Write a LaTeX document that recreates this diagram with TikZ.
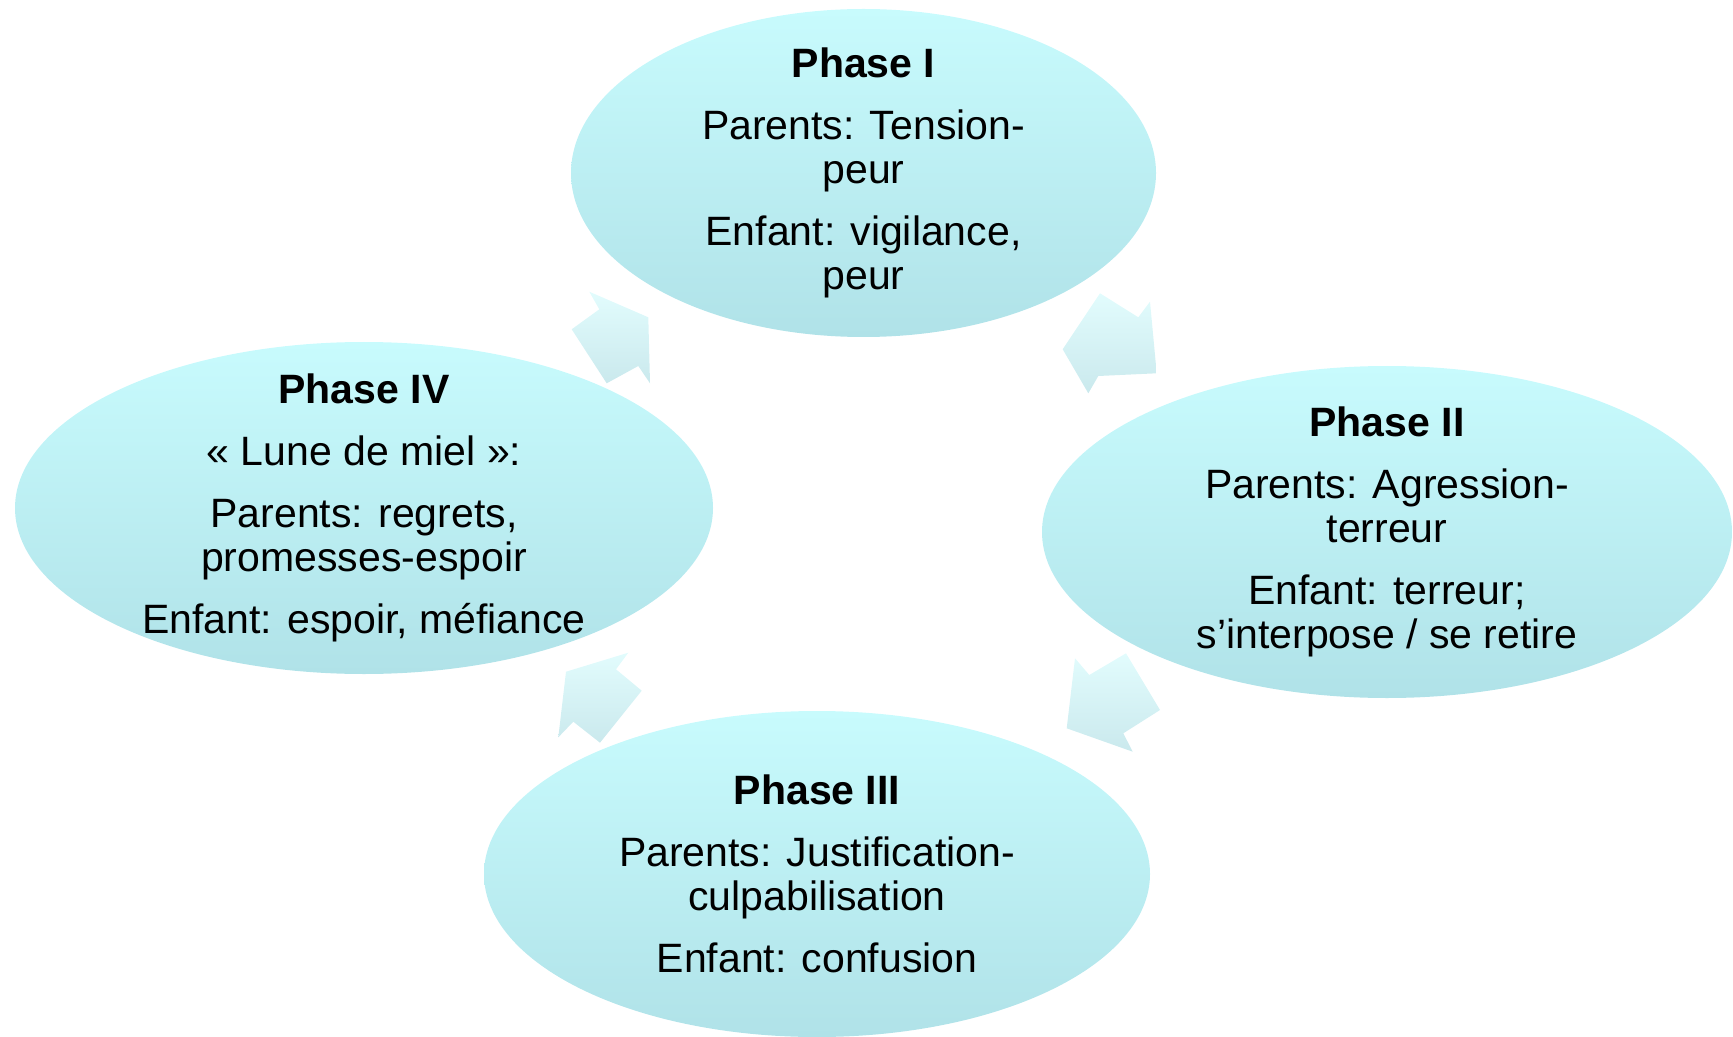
\documentclass[tikz,border=0pt]{standalone}
\usepackage{fontspec}
\setmainfont{Liberation Sans}
\usetikzlibrary{shapes.geometric}
\definecolor{ovaltop}{RGB}{200,251,253}
\definecolor{ovalbot}{RGB}{176,226,232}
\definecolor{arrtop}{RGB}{226,252,253}
\definecolor{arrbot}{RGB}{202,233,237}
\begin{document}
\begin{tikzpicture}[x=0.5pt,y=-0.5pt]
            \tikzset{phase/.style 2 args={ellipse, draw=none, inner sep=0pt, minimum width=#1pt, minimum height=#2pt, top color=ovaltop, bottom color=ovalbot}};
            \tikzset{txt/.style={align=center, font=\fontsize{20.5}{22}\selectfont}};
            \tikzset{cyc/.style={top color=arrtop, bottom color=arrbot}};
            \useasboundingbox (0,0) rectangle (1733,1037);

            \shade[cyc] (589.3,291.7) -- (648.3,317.3) -- (650,383.3) -- (638.3,366) -- (606.7,383.3) -- (571.7,329.3) -- (599.3,309.3) -- cycle;
            \shade[cyc] (1100,293.3) -- (1138.3,317.3) -- (1150,301.7) -- (1156.7,373.3) -- (1098.3,376) -- (1088.3,393.3) -- (1062.7,349.3) -- cycle;
            \shade[cyc] (1075,658.3) -- (1089.3,675) -- (1126,653.3) -- (1160,710) -- (1123.3,733.3) -- (1132.7,751.7) -- (1066.7,728.3) -- cycle;
            \shade[cyc] (628.3,652.7) -- (616,669.3) -- (641.7,690.7) -- (600,742.7) -- (573.3,721.7) -- (558.3,737.3) -- (566,671.7) -- cycle;

            \node[phase={292.5}{164}] (p1) at (863.5,173) {};
            \node[phase={345}{166}] (p2) at (1387,532) {};
            \node[phase={333}{163}] (p3) at (817,874) {};
            \node[phase={349}{166}] (p4) at (364,508) {};

            \node[txt] (t1) at (p1) {\textbf{Phase I}\\[9pt] Parents: Tension-\\ peur\\[9pt] Enfant: vigilance,\\ peur};
            \node[txt] (t2) at (p2) {\textbf{Phase II}\\[9pt] Parents: Agression-\\ terreur\\[9pt] Enfant: terreur;\\ s’interpose / se retire};
            \node[txt] (t3) at (p3) {\textbf{Phase III}\\[9pt] Parents: Justification-\\ culpabilisation\\[9pt] Enfant: confusion};
            \node[txt] (t4) at (p4) {\textbf{Phase IV}\\[9pt] « Lune de miel »:\\[9pt] Parents: regrets,\\ promesses-espoir\\[9pt] Enfant: espoir, méfiance};
        \end{tikzpicture}
\end{document}
